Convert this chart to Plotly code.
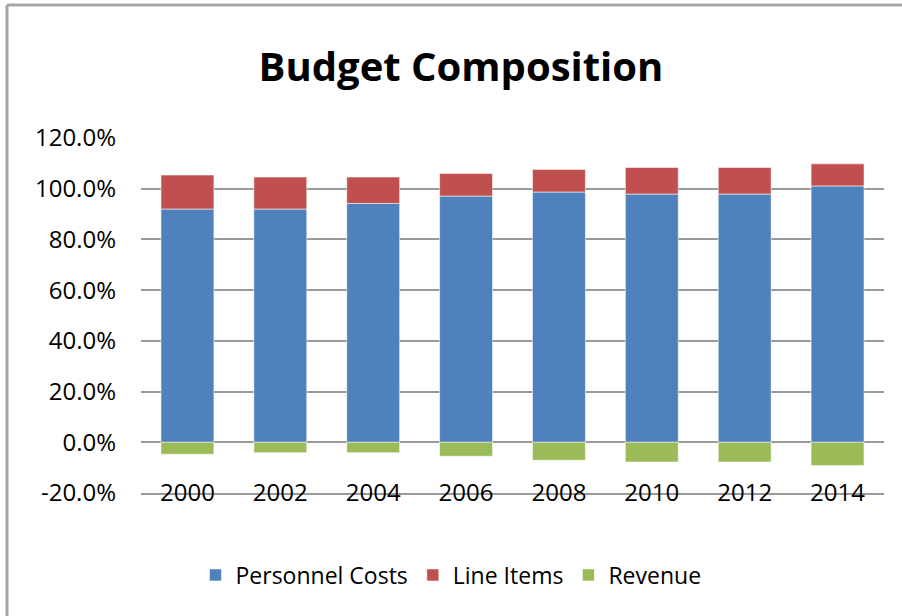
import plotly.graph_objects as go

# Budget composition by year (percent of total budget)
years = ["2000", "2002", "2004", "2006", "2008", "2010", "2012", "2014"]
personnel_costs = [92.0, 92.0, 94.2, 97.1, 98.7, 97.9, 97.9, 101.1]
line_items = [13.4, 12.6, 10.4, 8.9, 8.9, 10.5, 10.5, 8.7]
revenue = [-4.7, -4.1, -4.1, -5.5, -7.1, -7.8, -7.8, -9.2]
y_ticks = [-20, 0, 20, 40, 60, 80, 100, 120]
y_tick_labels = ["-20.0%", "0.0%", "20.0%", "40.0%", "60.0%", "80.0%", "100.0%", "120.0%"]

FONT = "Open Sans"
W, H = 902, 616
ML, MR, MT, MB = 141, 18, 138, 123
PW, PH = W - ML - MR, H - MT - MB
GRID = "#9a9a9a"

bar_line = dict(color="rgba(255,255,255,0.55)", width=1)

fig = go.Figure()
fig.add_trace(go.Bar(name="Personnel Costs", x=years, y=personnel_costs,
                     marker=dict(color="#4F81BD", line=bar_line)))
fig.add_trace(go.Bar(name="Line Items", x=years, y=line_items,
                     marker=dict(color="#C0504D", line=bar_line)))
fig.add_trace(go.Bar(name="Revenue", x=years, y=revenue,
                     marker=dict(color="#9BBB59", line=bar_line)))


def px_x(px):
    return (px - ML) / PW


def px_y(py):
    return (H - MB - py) / PH


# Chart frame: top and left edges
shape_line = dict(color="#a6a6a6", width=3)
fig.add_shape(type="line", xref="paper", yref="paper",
              x0=px_x(7), x1=px_x(W + 5), y0=px_y(5), y1=px_y(5), line=shape_line)
fig.add_shape(type="line", xref="paper", yref="paper",
              x0=px_x(7), x1=px_x(7), y0=px_y(5), y1=px_y(H + 5), line=shape_line)

fig.update_layout(
    width=W, height=H,
    margin=dict(l=ML, r=MR, t=MT, b=MB, pad=0),
    paper_bgcolor="white", plot_bgcolor="white",
    barmode="relative", bargap=0.43,
    font=dict(family=FONT, color="black"),
    title=dict(text="<b>Budget Composition</b>", font=dict(family=FONT, size=40, color="black"),
               x=461 / W, xanchor="center", xref="container",
               y=1 - 67 / H, yanchor="middle", yref="container"),
    xaxis=dict(showgrid=False, showline=True, linecolor=GRID, linewidth=2,
               ticks="", zeroline=False,
               tickfont=dict(family=FONT, size=24, color="black"),
               ticklabelstandoff=-23),
    yaxis=dict(range=[-20, 120], tickvals=y_ticks, ticktext=y_tick_labels,
               showgrid=True, gridcolor=GRID, gridwidth=2,
               zeroline=True, zerolinecolor=GRID, zerolinewidth=2,
               showline=False, ticks="", ticklabelstandoff=24,
               tickfont=dict(family=FONT, size=24, color="black")),
    legend=dict(orientation="h", x=px_x(451), xanchor="center",
                y=px_y(575), yanchor="middle",
                font=dict(family=FONT, size=23, color="black"),
                itemwidth=30, traceorder="normal"),
)

fig.write_html("out.html")
